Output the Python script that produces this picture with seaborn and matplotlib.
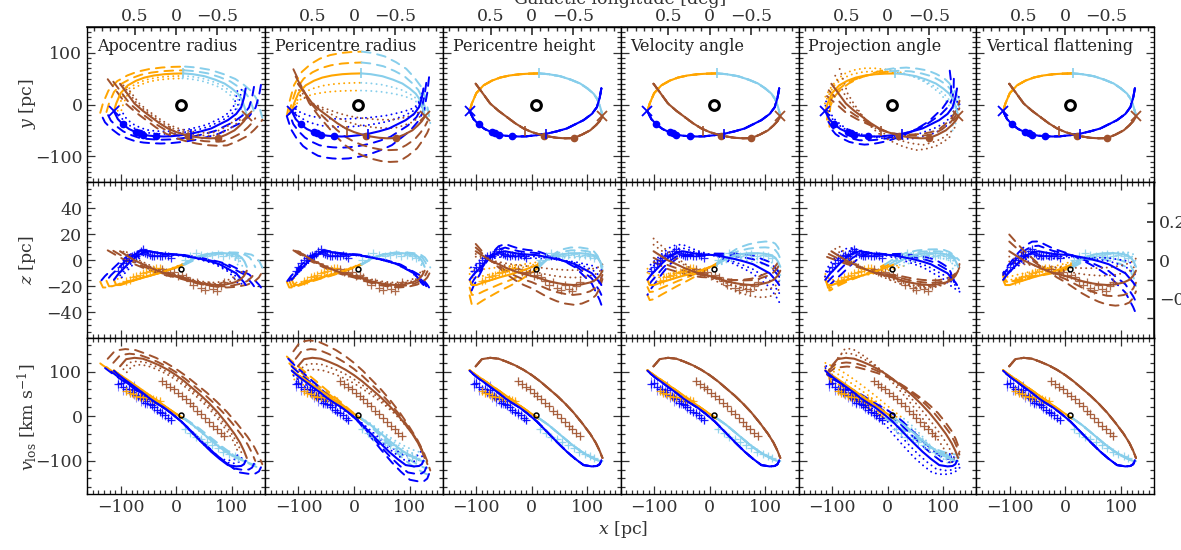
import numpy as np
import pandas as pd
import matplotlib
matplotlib.use("Agg")
import matplotlib.pyplot as plt
import seaborn as sns
from matplotlib.ticker import MultipleLocator, FixedLocator, FixedFormatter

sns.set_theme(style="ticks")
plt.rcParams["font.family"] = ["DejaVu Serif"]
plt.rcParams["mathtext.fontset"] = "dejavuserif"

# ---------------- data ----------------
panel_titles = ["Apocentre radius", "Pericentre radius", "Pericentre height",
                "Velocity angle", "Projection angle", "Vertical flattening"]

# orbit segments (x [pc], y [pc], z [pc], v_los [km/s])
orange_x = [-112, -108, -100, -87, -72, -57, -40, -21, -5, 13]
orange_y = [-13, 2, 22, 37, 46, 52, 56, 58.5, 59.5, 60]
orange_z = [-15, -19, -19, -17, -15, -13, -11, -8.5, -6, -3]
orange_v = [103, 99, 92, 81, 68, 55, 40, 23, 9, -6]

skyblue_x = [13, 30, 51, 70, 87, 100, 111, 118, 123, 127]
skyblue_y = [60, 58.5, 54.6, 48, 40.5, 31, 21, 10, -5, -21]
skyblue_z = [-3, 1, 4.5, 5.5, 5.5, 5, 4, 2, -1, -5]
skyblue_v = [-5, -20, -42, -62, -78, -88, -95, -99, -101, -101]

blue_x = [125, 122, 117, 108, 93, 78, 63, 45, 27, 9, -9, -23, -36, -48, -60, -72, -85, -96, -105, -112]
blue_y = [31, 13, -5, -18, -30, -38, -46, -51.5, -56, -59, -61, -61.5, -61, -60, -58, -53.5, -47, -38, -28, -13]
blue_z = [-19, -17, -14.5, -10, -6.5, -3, -1, 1, 2.5, 4, 4.5, 5, 6, 7, 6, 3, -2, -7, -11, -15]
blue_v = [-100, -108, -112, -113, -110, -96, -80, -58, -35, -12, 7, 20, 30, 40, 52, 63, 75, 85, 94, 102]

sienna_x = [-101, -90, -75, -60, -45, -30, -15, 0, 15, 30, 45, 60, 75, 90, 105, 115, 122, 127]
sienna_y = [40, 24, 2, -12, -24, -36, -46, -53, -58, -61.5, -64, -65, -64.5, -58, -49.6, -40, -32, -24]
sienna_z = [7, 4, 0, -3, -6, -8.5, -10.5, -12, -14, -16, -17.5, -18.5, -19, -18.5, -17, -15, -12, -8]
sienna_v = [112, 128, 131, 129, 122, 114, 104, 92, 78, 62, 46, 28, 8, -15, -40, -60, -78, -94]

# markers along the best orbit (top row)
blue_dot_x = [-96, -72, -66, -60, -36]
blue_dot_y = [-38, -53.5, -55, -58, -61]
sienna_dot_x = [21, 75]
sienna_dot_y = [-60, -64.5]
end_cross_x = [-112, 127]
end_cross_y = [-13, -22]
tick_mark_x = [13, 26, -12]
tick_mark_y = [60, -56, -50]
tick_mark_c = ["skyblue", "blue", "sienna"]

# Sgr A*
sgra_x, sgra_y, sgra_z, sgra_v = 8, 0, -7, 2

# observed gas (z and v_los)
obs_blue_x = [-105, -100, -95, -90, -85, -80, -76, -72, -68, -64, -60, -56, -52, -48, -44, -40, -35, -30, -25, -20, -15, -10]
obs_blue_z = [-8, -5, -2, 0, 2, 3, 4, 3, 5, 7, 9, 6, 5, 4, 3, 3, 4, 3, 3, 4, 3, 2]
obs_blue_v = [72, 75, 66, 60, 62, 55, 58, 48, 45, 40, 38, 30, 35, 28, 25, 20, 14, 10, 6, 2, -4, -8]
obs_blue_ev = [15, 12, 18, 10, 14, 12, 20, 16, 10, 18, 14, 12, 16, 10, 12, 14, 10, 8, 12, 10, 8, 10]

obs_orange_x = [-90, -84, -78, -72, -66, -60, -54, -48, -42, -36, -30]
obs_orange_z = [-16, -15, -13, -12, -11, -10, -9, -8, -7, -6, -6]
obs_orange_v = [56, 52, 50, 46, 44, 42, 44, 40, 38, 36, 34]

obs_skyblue_x = [15, 25, 35, 45, 55, 65, 75, 85, 95, 105, 112]
obs_skyblue_z = [0, 3, 6, 4, 3, 4, 5, 3, 4, 3, 2]
obs_skyblue_v = [-30, -38, -46, -52, -58, -66, -72, -80, -85, -90, -94]

obs_sienna_x = [-25, -18, -11, -4, 3, 10, 17, 24, 31, 38, 45, 52, 59, 66, 73, 80, 86]
obs_sienna_z = [-7, -9, -10, -9, -12, -11, -13, -16, -19, -17, -21, -23, -19, -22, -24, -20, -17]
obs_sienna_v = [78, 72, 66, 60, 52, 46, 38, 30, 22, 12, 5, -5, -14, -22, -30, -38, -44]

# parameter variations per panel: (sx, sy, rot_deg, sz, tz, sv)
variations = [
    {"dash": [(1.12, 1.10, 0, 1.05, 0.0, 1.07), (1.22, 1.22, 0, 1.10, 0.0, 1.15)],
     "dot": [(0.94, 0.92, 0, 0.95, 0.0, 0.94), (0.88, 0.84, 0, 0.90, 0.0, 0.88)]},
    {"dash": [(1.04, 1.35, 0, 1.05, 0.0, 1.15), (1.08, 1.70, 0, 1.10, 0.0, 1.30)],
     "dot": [(0.98, 0.70, 0, 0.95, 0.0, 0.90), (0.96, 0.45, 0, 0.90, 0.0, 0.80)]},
    {"dash": [(1.0, 1.0, 0, 1.4, 0.0, 1.0), (1.0, 1.0, 0, 1.8, 0.0, 1.0)],
     "dot": [(1.0, 1.0, 0, 0.7, 0.0, 1.0), (1.0, 1.0, 0, 0.4, 0.0, 1.0)]},
    {"dash": [(1.0, 1.0, 0, 1.0, 0.05, 1.0), (1.0, 1.0, 0, 1.1, 0.09, 1.0)],
     "dot": [(1.0, 1.0, 0, 1.0, -0.05, 1.0), (1.0, 1.0, 0, 1.1, -0.09, 1.0)]},
    {"dash": [(1.0, 1.05, 8, 1.0, 0.02, 0.92), (1.0, 1.10, 15, 1.0, 0.04, 0.85)],
     "dot": [(1.0, 1.05, -8, 1.0, -0.02, 1.08), (1.0, 1.10, -15, 1.0, -0.04, 1.16)]},
    {"dash": [(1.0, 1.0, 0, 1.2, -0.06, 1.0), (1.0, 1.0, 0, 1.4, -0.1, 1.0)],
     "dot": [(1.0, 1.0, 0, 0.7, 0.02, 1.0), (1.0, 1.0, 0, 0.45, 0.04, 1.0)]},
]

# ---------------- build tables ----------------
segments = {
    "orange": (orange_x, orange_y, orange_z, orange_v),
    "skyblue": (skyblue_x, skyblue_y, skyblue_z, skyblue_v),
    "blue": (blue_x, blue_y, blue_z, blue_v),
    "sienna": (sienna_x, sienna_y, sienna_z, sienna_v),
}
palette = {"orange": "#FFA500", "skyblue": "#87CEEB", "blue": "#0000FF", "sienna": "#A0522D"}


def transformed(seg, p):
    x, y, z, v = (np.asarray(a, float) for a in segments[seg])
    sx, sy, rot, sz, tz, sv = p
    xs, ys = sx * x, sy * y
    th = np.deg2rad(rot)
    xr = xs * np.cos(th) - ys * np.sin(th)
    yr = xs * np.sin(th) + ys * np.cos(th)
    return xr, yr, sz * z + tz * xr, sv * v


def panel_frame(ip, which):
    rows = []
    if which == "solid":
        plist = [("solid", 0, (1, 1, 0, 1, 0, 1))]
    else:
        plist = [(ls, k, p) for ls in ("dash", "dot") for k, p in enumerate(variations[ip][ls])]
    for ls, k, p in plist:
        for seg in segments:
            xr, yr, zr, vr = transformed(seg, p)
            rows.append(pd.DataFrame({"x": xr, "y": yr, "z": zr, "v": vr, "seg": seg,
                                      "ls": ls, "unit": f"{ls}{k}{seg}"}))
    return pd.concat(rows, ignore_index=True)


# ---------------- figure ----------------
fig, axes = plt.subplots(3, 6, figsize=(11.81, 5.5), dpi=100, sharex=True)
fig.subplots_adjust(left=0.0739, right=0.9774, top=0.9515, bottom=0.1018, wspace=0, hspace=0)

pc_per_deg = 148.35
qty = ["y", "z", "v"]
lims = [(-150, 150), (-60, 60), (-175, 175)]
ymaj = [[-100, 0, 100], [-40, -20, 0, 20, 40], [-100, 0, 100]]
ymin = [10, 5, 20]
dash_map = {"solid": "", "dash": (4.5, 3.5), "dot": (0.05, 2.6)}
label_col = "#333333"
fs = 12.5

obs_sets = [
    ("blue", obs_blue_x, obs_blue_z, obs_blue_v, obs_blue_ev),
    ("orange", obs_orange_x, obs_orange_z, obs_orange_v, [8] * len(obs_orange_x)),
    ("skyblue", obs_skyblue_x, obs_skyblue_z, obs_skyblue_v, [6] * len(obs_skyblue_x)),
    ("sienna", obs_sienna_x, obs_sienna_z, obs_sienna_v, [10] * len(obs_sienna_x)),
]

for ip in range(6):
    dvar = panel_frame(ip, "var")
    dsol = panel_frame(ip, "solid")
    for r in range(3):
        ax = axes[r, ip]
        q = qty[r]
        sns.lineplot(data=dvar, x="x", y=q, hue="seg", style="ls", units="unit",
                     estimator=None, sort=False, palette=palette, dashes=dash_map,
                     lw=1.4, legend=False, ax=ax, dash_capstyle="round", zorder=2)
        if r > 0:
            for seg, ox, oz, ov, oe in obs_sets:
                oy = oz if r == 1 else ov
                if r == 2:
                    ax.errorbar(ox, oy, yerr=oe, xerr=4, fmt="none", ecolor=palette[seg],
                                alpha=0.45, lw=0.8, zorder=3)
                sns.scatterplot(x=ox, y=oy, color=palette[seg], marker="+", s=30,
                                linewidth=0.9, ax=ax, legend=False, zorder=3, alpha=0.85)
        sns.lineplot(data=dsol, x="x", y=q, hue="seg", units="unit", estimator=None,
                     sort=False, palette=palette, lw=1.5, legend=False, ax=ax, zorder=4)
        if r == 0:
            ax.plot(blue_dot_x, blue_dot_y, "o", color="#0000FF", ms=4.5, zorder=5)
            ax.plot(sienna_dot_x, sienna_dot_y, "o", color="#A0522D", ms=4.5, zorder=5)
            for tx, ty, tc in zip(tick_mark_x, tick_mark_y, tick_mark_c):
                ax.plot([tx], [ty], "|", color=palette[tc], ms=7, mew=1.2, zorder=5)
            ax.plot(end_cross_x[:1], end_cross_y[:1], "x", color="#0000FF", ms=7, mew=1.3, zorder=5)
            ax.plot(end_cross_x[1:], end_cross_y[1:], "x", color="#A0522D", ms=7, mew=1.3, zorder=5)
            ax.plot([sgra_x], [sgra_y], "o", mfc="none", mec="black", ms=7, mew=2.2, zorder=6)
            ax.text(0.055, 0.93, panel_titles[ip], transform=ax.transAxes, va="top",
                    ha="left", fontsize=11.5, color="#222222")
        else:
            ax.plot([sgra_x], [sgra_z if r == 1 else sgra_v], "o", mfc="none", mec="black",
                    ms=3.5, mew=1.1, zorder=6)

        ax.set_xlim(-160, 160)
        ax.set_ylim(*lims[r])
        ax.set_xlabel("")
        ax.set_ylabel("")
        ax.xaxis.set_major_locator(MultipleLocator(100))
        ax.xaxis.set_minor_locator(MultipleLocator(10))
        ax.yaxis.set_major_locator(FixedLocator(ymaj[r]))
        ax.yaxis.set_minor_locator(MultipleLocator(ymin[r]))
        last_mid = (r == 1 and ip == 5)
        ax.tick_params(which="both", direction="in", top=(r > 0), right=not last_mid,
                       labelbottom=(r == 2), labelleft=(ip == 0), labelsize=fs,
                       colors=label_col, width=0.9)
        ax.tick_params(which="major", length=6)
        ax.tick_params(which="minor", length=3)
        for s in ax.spines.values():
            s.set_color("black")
            s.set_linewidth(1.0)

        if r == 0:
            sec = ax.secondary_xaxis("top", functions=(lambda x: -x / pc_per_deg,
                                                       lambda l: -l * pc_per_deg))
            sec.xaxis.set_major_locator(FixedLocator([0.5, 0.0, -0.5]))
            sec.xaxis.set_major_formatter(FixedFormatter(["0.5", "0", "\u22120.5"]))
            sec.xaxis.set_minor_locator(FixedLocator(np.round(np.arange(-1.0, 1.01, 0.1), 2)))
            sec.tick_params(which="both", direction="in", labelsize=fs, colors=label_col,
                            pad=1)
            sec.tick_params(which="major", length=6)
            sec.tick_params(which="minor", length=3)
        if last_mid:
            sec = ax.secondary_yaxis("right", functions=(lambda z: z / pc_per_deg,
                                                         lambda b: b * pc_per_deg))
            sec.yaxis.set_major_locator(FixedLocator([0.2, 0.0, -0.2]))
            sec.yaxis.set_major_formatter(FixedFormatter(["0.2", "0", "\u22120.2"]))
            sec.yaxis.set_minor_locator(FixedLocator([-0.3, -0.1, 0.1, 0.3]))
            sec.tick_params(which="both", direction="in", labelsize=fs, colors=label_col,
                            length=5)

fig.text(27 / 1181, 1 - 104 / 550, r"$y$ [pc]", rotation=90, ha="center", va="center",
         fontsize=fs, color=label_col)
fig.text(27 / 1181, 1 - 260 / 550, r"$z$ [pc]", rotation=90, ha="center", va="center",
         fontsize=fs, color=label_col)
fig.text(27 / 1181, 1 - 417 / 550, r"$v_{\rm los}$ [km s$^{-1}$]", rotation=90,
         ha="center", va="center", fontsize=fs, color=label_col)
fig.text(623 / 1181, 1 - 530 / 550, r"$x$ [pc]", ha="center", va="center",
         fontsize=fs, color=label_col)
fig.text(620 / 1181, 1 - 4 / 550, "Galactic longitude [deg]", ha="center", va="baseline",
         fontsize=fs, color=label_col)

fig.savefig("out.png", dpi=100)
